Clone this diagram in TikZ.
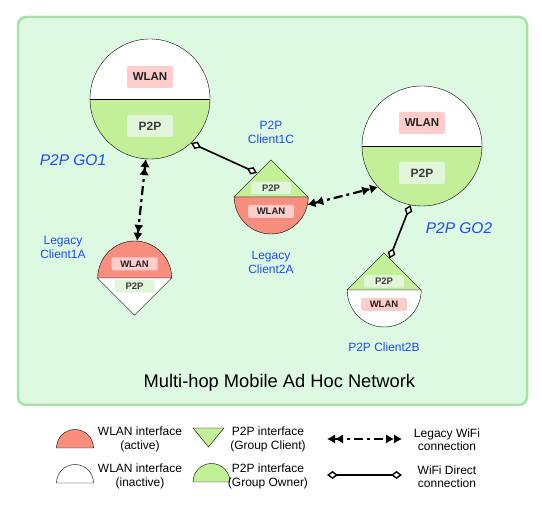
\documentclass[tikz,border=0pt]{standalone}
\usepackage{fontspec}
\setmainfont{Liberation Sans}
\usepackage{tikz}
\usetikzlibrary{arrows.meta, shapes.geometric}

\definecolor{netfill}{RGB}{221,249,225}
\definecolor{netborder}{RGB}{168,226,168}
\definecolor{gogreen}{RGB}{194,239,152}
\definecolor{wlanred}{RGB}{247,142,126}
\definecolor{wlanpink}{RGB}{255,204,204}
\definecolor{p2plight}{RGB}{225,245,218}
\definecolor{peerblue}{RGB}{25,75,250}
\definecolor{boxtext}{RGB}{34,34,34}
\definecolor{p2ptext}{RGB}{60,60,60}

\begin{document}
\begin{tikzpicture}[x=1pt, y=1pt, node distance=20pt]
%
% Sketch:
%   GO1 <-legacy-> Client1A      GO1 <-direct-> Client1C
%   Client1C/2A <-legacy-> GO2   GO2 <-direct-> Client2B
%   legend below the network box
%
\tikzstyle{gonode} = [circle, draw=black, thin, minimum size=120pt, inner sep=0pt, fill=white, path picture={\fill[gogreen] (path picture bounding box.west) rectangle (path picture bounding box.south east);}]
\tikzstyle{clientnode} = [circle, minimum size=74pt, inner sep=0pt]
\tikzstyle{wlanbig} = [rectangle, rounded corners=2pt, fill=wlanpink, minimum width=46pt, minimum height=22pt, inner sep=0pt, text=boxtext, font=\fontsize{11.5}{12}\selectfont\bfseries]
\tikzstyle{p2pbig} = [rectangle, rounded corners=2pt, fill=p2plight, minimum width=46pt, minimum height=22pt, inner sep=0pt, text=p2ptext, font=\fontsize{12}{12}\selectfont\bfseries]
\tikzstyle{wlansmall} = [rectangle, rounded corners=1.5pt, fill=wlanpink, minimum width=46pt, minimum height=13pt, inner sep=0pt, text=boxtext, font=\fontsize{9.5}{10}\selectfont\bfseries]
\tikzstyle{p2psmall} = [rectangle, rounded corners=1.5pt, fill=p2plight, minimum width=40pt, minimum height=12.5pt, inner sep=0pt, text=p2ptext, font=\fontsize{9.5}{10}\selectfont\bfseries]
\tikzstyle{peerlabel} = [text=peerblue, align=center, font=\fontsize{12}{14}\selectfont]
\tikzstyle{gotitle} = [text=peerblue, font=\fontsize{15.5}{16}\selectfont\itshape]
\tikzstyle{legendtext} = [align=center, font=\fontsize{12}{13.5}\selectfont]
\tikzstyle{legacy} = [line width=2.2pt, dash pattern=on 9pt off 4pt on 3pt off 4pt, {Latex[length=8pt,width=9.5pt]Latex[length=8pt,width=9.5pt]}-{Latex[length=8pt,width=9.5pt]Latex[length=8pt,width=9.5pt]}]
\tikzstyle{direct} = [line width=1.6pt, {Diamond[fill=white,length=11pt,width=8pt,line width=1.4pt]}-{Diamond[fill=white,length=11pt,width=8pt,line width=1.4pt]}]
\useasboundingbox (0,0) rectangle (542,505);
% Network box
\draw[draw=netborder, fill=netfill, line width=2.5pt, rounded corners=8pt] (18,100) rectangle (527,488);
\node (title) at (279.4,122) [font=\fontsize{18.3}{19}\selectfont] {Multi-hop Mobile Ad Hoc Network};
% Group owners
\node (go1) [gonode] at (150,406) {};
\draw (go1.west) -- (go1.east);
\node (go1wlan) [wlanbig, above of=go1, node distance=22pt] {WLAN};
\node (go1p2p) [p2pbig, below of=go1, node distance=27pt] {P2P};
\node (go1name) [gotitle] at (73,345) {P2P GO1};
\node (go2) [gonode] at (422,359) {};
\draw (go2.west) -- (go2.east);
\node (go2wlan) [wlanbig, above of=go2, node distance=23pt] {WLAN};
\node (go2p2p) [p2pbig, below of=go2, node distance=27pt] {P2P};
\node (go2name) [gotitle] at (459,277) {P2P GO2};
% Clients
\node (c1a) [clientnode] at (134.5,227) {};
\draw[fill=wlanred] (c1a.east) arc[start angle=0, end angle=180, radius=37] -- cycle;
\draw[fill=white] (c1a.west) -- (c1a.south) -- (c1a.east) -- cycle;
\node (c1awlan) [wlansmall, above of=c1a, node distance=14pt] {WLAN};
\node (c1ap2p) [p2psmall, below of=c1a, node distance=8.5pt] {P2P};
\node (c1aname) [peerlabel] at (63,257.5) {Legacy\\Client1A};
\node (c1c) [clientnode] at (271,308) {};
\draw[fill=gogreen] (c1c.west) -- (c1c.north) -- (c1c.east) -- cycle;
\draw[fill=wlanred] (c1c.east) arc[start angle=0, end angle=-180, radius=37] -- cycle;
\node (c1cp2p) [p2psmall, above of=c1c, node distance=9pt] {P2P};
\node (c1cwlan) [wlansmall, below of=c1c, node distance=14.5pt] {WLAN};
\node (c1cname) [peerlabel, above of=c1c, node distance=64.5pt] {P2P\\Client1C};
\node (c2aname) [peerlabel, below of=c1c, node distance=65.5pt] {Legacy\\Client2A};
\node (c2b) [clientnode] at (384,215) {};
\draw[fill=gogreen] (c2b.west) -- (c2b.north) -- (c2b.east) -- cycle;
\draw[fill=white] (c2b.east) arc[start angle=0, end angle=-180, radius=37] -- cycle;
\node (c2bp2p) [p2psmall, above of=c2b, node distance=8.5pt] {P2P};
\node (c2bwlan) [wlansmall, below of=c2b, node distance=14.5pt] {WLAN};
\node (c2bname) [peerlabel, below of=c2b, node distance=57pt] {P2P Client2B};
% Connections
\coordinate (c1cside) at (257,332);
\coordinate (c2bside) at (389.5,246.5);
\draw[legacy] (go1.266) -- (c1a.86);
\draw[legacy] (c1c.-12) -- (go2.223);
\draw[direct] (go1.313) -- (c1cside);
\draw[direct] (go2.259) -- (c2bside);
% Legend
\draw[fill=wlanred] (93.5,57) arc[start angle=0, end angle=180, radius=18.5] -- cycle;
\node (legwlanon) [legendtext] at (140,65.5) {WLAN interface\\(active)};
\draw[fill=white] (93.5,22) arc[start angle=0, end angle=180, radius=18.5] -- cycle;
\node (legwlanoff) [legendtext] at (140,28.5) {WLAN interface\\(inactive)};
\draw[fill=gogreen] (193,77) -- (224,77) -- (208.5,58) -- cycle;
\node (legclient) [legendtext] at (268,65.5) {P2P interface\\(Group Client)};
\draw[fill=gogreen] (230,23) arc[start angle=0, end angle=180, radius=18.5] -- cycle;
\node (legowner) [legendtext] at (268,28.5) {P2P interface\\(Group Owner)};
\coordinate (leglegacyA) at (327,66);
\coordinate (leglegacyB) at (402,66);
\draw[legacy] (leglegacyA) -- (leglegacyB);
\node (leglegacy) [legendtext] at (447,65.5) {Legacy WiFi\\connection};
\coordinate (legdirectA) at (327,30);
\coordinate (legdirectB) at (402,30);
\draw[direct] (legdirectA) -- (legdirectB);
\node (legdirect) [legendtext] at (447,28.5) {WiFi Direct\\connection};
\end{tikzpicture}
\end{document}
